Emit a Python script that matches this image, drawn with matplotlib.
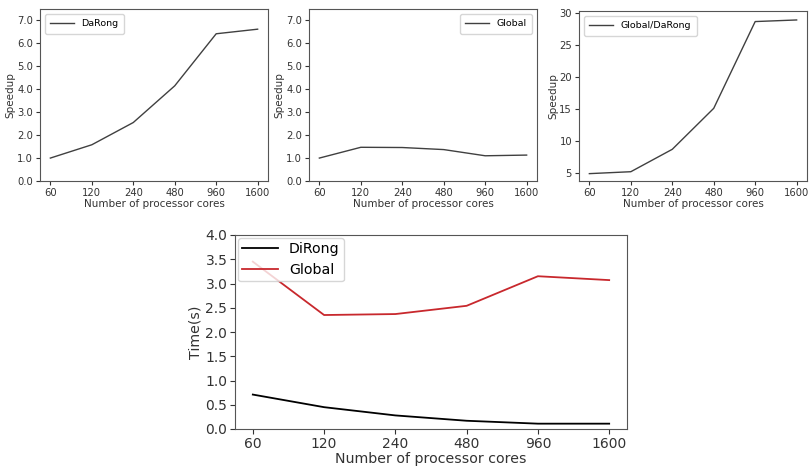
import matplotlib
matplotlib.use('Agg')
import matplotlib.pyplot as plt
import numpy as np

cores = ['60', '120', '240', '480', '960', '1600']

speedup_darong = [1.0, 1.58, 2.55, 4.15, 6.42, 6.62]
speedup_global = [1.0, 1.47, 1.46, 1.37, 1.10, 1.13]
speedup_ratio = [4.9, 5.2, 8.7, 15.1, 28.65, 28.9]

time_dirong = [0.71, 0.45, 0.28, 0.17, 0.11, 0.11]
time_global = [3.45, 2.35, 2.37, 2.54, 3.15, 3.07]

W, H = 809, 471
fig = plt.figure(figsize=(W / 100, H / 100), dpi=100)

def box(l, t, r, b):
    return [l / W, 1 - b / H, (r - l) / W, (b - t) / H]

txt = '#333333'
x = np.arange(len(cores))

def small_panel(rect, y, label, loc, ylim, yticks, fmt):
    ax = fig.add_axes(rect)
    ax.plot(x, y, color='#404040', lw=1.0, label=label)
    ax.set_xticks(x)
    ax.set_xticklabels(cores)
    ax.set_ylim(*ylim)
    ax.set_yticks(yticks)
    ax.set_yticklabels([fmt.format(v) for v in yticks])
    ax.set_xlabel('Number of processor cores', fontsize=7.5, color=txt, labelpad=1)
    ax.set_ylabel('Speedup', fontsize=7.5, color=txt, labelpad=1)
    ax.tick_params(labelsize=7.2, colors=txt, length=3, pad=2)
    for s in ax.spines.values():
        s.set_color('#555555')
        s.set_linewidth(0.8)
    ax.legend(loc=loc, fontsize=6.8, handlelength=2.5, borderpad=0.6)
    return ax

sp = np.arange(0, 7.5, 1.0)
small_panel(box(40, 9, 268, 181), speedup_darong, 'DaRong', 'upper left',
            (0, 7.5), sp, '{:.1f}')
small_panel(box(309, 9, 537, 181), speedup_global, 'Global', 'upper right',
            (0, 7.5), sp, '{:.1f}')
small_panel(box(579, 11, 807, 181), speedup_ratio, 'Global/DaRong', 'upper left',
            (3.75, 30.3), [5, 10, 15, 20, 25, 30], '{:d}')

ax = fig.add_axes(box(235, 235, 627, 429))
ax.plot(x, time_dirong, color='black', lw=1.3, label='DiRong')
ax.plot(x, time_global, color='#c8282d', lw=1.3, label='Global')
ax.set_xticks(x)
ax.set_xticklabels(cores)
ax.set_ylim(0, 4.0)
yt = np.arange(0, 4.01, 0.5)
ax.set_yticks(yt)
ax.set_yticklabels(['{:.1f}'.format(v) for v in yt])
ax.set_xlabel('Number of processor cores', fontsize=10.2, color=txt, labelpad=1)
ax.set_ylabel('Time(s)', fontsize=10.2, color=txt, labelpad=2)
ax.tick_params(labelsize=10, colors=txt, length=3.5, pad=2)
for s in ax.spines.values():
    s.set_color('#555555')
    s.set_linewidth(0.8)
ax.legend(loc='upper left', fontsize=10.2, handlelength=2.5, borderpad=0.3,
          borderaxespad=0.2, framealpha=0.8)

fig.savefig('out.png', dpi=100)
